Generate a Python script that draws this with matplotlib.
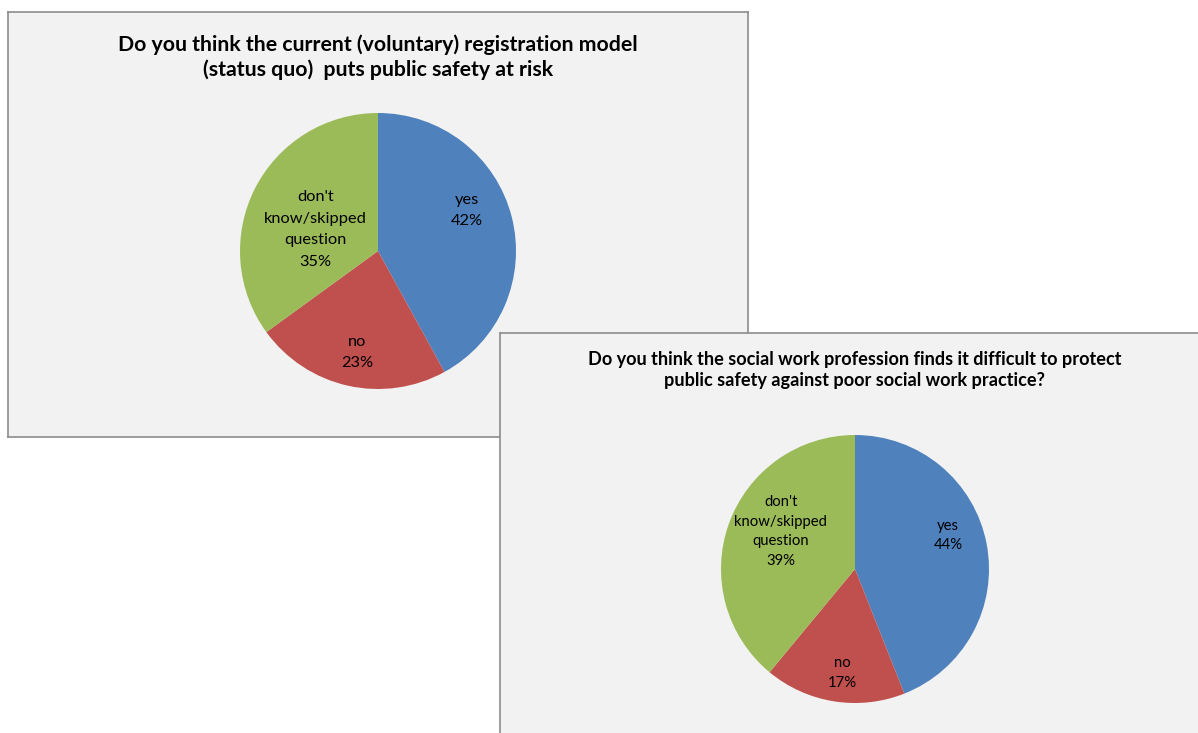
import numpy as np
import matplotlib
matplotlib.use('Agg')
import matplotlib.pyplot as plt

plt.rcParams['font.family'] = ['Lato', 'DejaVu Sans']

# data
categories = ['yes', 'no', "don't\nknow/skipped\nquestion"]
risk_values = [42, 23, 35]
difficult_values = [44, 17, 39]
risk_title = ('Do you think the current (voluntary) registration model\n'
              '(status quo)  puts public safety at risk')
difficult_title = ('Do you think the social work profession finds it difficult to protect\n'
                   'public safety against poor social work practice?')

colors = ['#4F81BD', '#C0504D', '#9BBB59']
W, H = 1198, 733


def px_axes(fig, x0, y0, x1, y1, **kw):
    """axes from pixel box (top-left origin)"""
    return fig.add_axes([x0 / W, (H - y1) / H, (x1 - x0) / W, (y1 - y0) / H], **kw)


def panel(fig, box, title, title_xy, title_size, spacing):
    ax = px_axes(fig, *box)
    ax.set_xlim(box[0], box[2])
    ax.set_ylim(box[3], box[1])
    ax.set_facecolor('#F2F2F2')
    for s in ax.spines.values():
        s.set_color('#8C8C8C')
        s.set_linewidth(1.2)
    ax.set_xticks([])
    ax.set_yticks([])
    ax.text(title_xy[0], title_xy[1], title, ha='center', va='center',
            fontsize=title_size, fontweight='bold', linespacing=spacing)
    return ax


def pie(fig, center, r, values, label_pos, fsize, spacing):
    cx, cy = center
    ax = px_axes(fig, cx - r, cy - r, cx + r, cy + r)
    wedges, _ = ax.pie(values, colors=colors, startangle=90, counterclock=False,
                       radius=1, wedgeprops=dict(linewidth=0))
    ax.set_xlim(-1, 1)
    ax.set_ylim(-1, 1)
    ax.set_aspect('equal')
    ax.axis('off')
    # label_pos: (radial distance, angle shift in deg) per wedge, Excel-like best fit
    for w, cat, v, (lr, shift) in zip(wedges, categories, values, label_pos):
        ang = np.deg2rad((w.theta1 + w.theta2) / 2 + shift)
        ax.text(lr * np.cos(ang), lr * np.sin(ang), f'{cat}\n{v}%',
                ha='center', va='center', fontsize=fsize, linespacing=spacing)


fig = plt.figure(figsize=(W / 100, H / 100), dpi=100)

panel(fig, (8, 12, 748, 437), risk_title, (378, 57), 15.3, 1.25)
pie(fig, (378, 251), 138, risk_values,
    [(0.71, 10), (0.75, 1), (0.48, 8)], 11.8, 1.68)

panel(fig, (500, 333, 1210, 745), difficult_title, (855, 370), 13.1, 1.33)
pie(fig, (855, 569), 134, difficult_values,
    [(0.74, 9), (0.78, 2), (0.62, -7)], 10.7, 1.52)

fig.savefig('out.png', dpi=100)
